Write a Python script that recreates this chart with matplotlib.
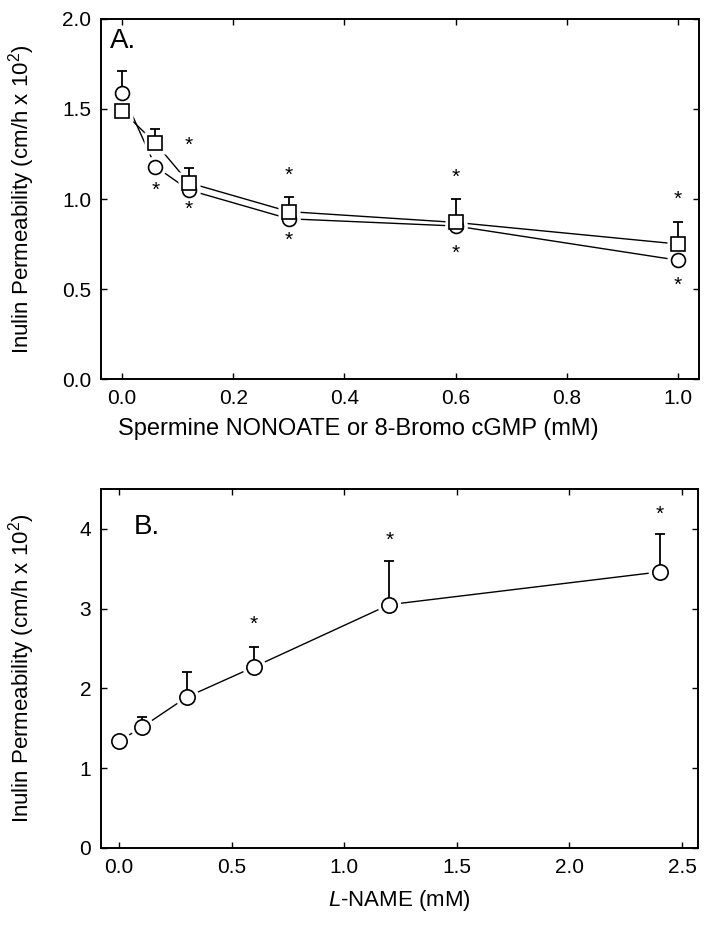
import numpy as np
import matplotlib
matplotlib.use("Agg")
import matplotlib.pyplot as plt

plt.rcParams['font.family'] = ['Liberation Sans', 'DejaVu Sans']
plt.rcParams['mathtext.fontset'] = 'custom'
plt.rcParams['mathtext.rm'] = 'Liberation Sans'
plt.rcParams['mathtext.it'] = 'Liberation Sans:italic'

# Panel A data (mM vs permeability, cm/h x 10^2)
conc_a = [0.0, 0.06, 0.12, 0.3, 0.6, 1.0]
circle_a = [1.59, 1.18, 1.05, 0.89, 0.85, 0.66]
circle_a_err = [0.12, 0.0, 0.0, 0.0, 0.0, 0.0]
square_a = [1.49, 1.31, 1.09, 0.93, 0.87, 0.75]
square_a_err = [0.0, 0.08, 0.08, 0.08, 0.13, 0.12]
stars_a_x = [0.06, 0.12, 0.12, 0.3, 0.3, 0.6, 0.6, 1.0, 1.0]
stars_a_y = [1.05, 1.30, 0.94, 1.13, 0.77, 1.12, 0.70, 1.00, 0.52]

# Panel B data
conc_b = [0.0, 0.1, 0.3, 0.6, 1.2, 2.4]
circle_b = [1.34, 1.51, 1.89, 2.27, 3.05, 3.46]
circle_b_err = [0.0, 0.13, 0.32, 0.25, 0.55, 0.47]
stars_b_x = [0.6, 1.2, 2.4]
stars_b_y = [2.80, 3.86, 4.18]

ylabel = "Inulin Permeability (cm/h x 10$^2$)"

fig = plt.figure(figsize=(7.09, 9.31), dpi=100)
ax1 = fig.add_axes([0.1425, 0.5929, 0.8434, 0.3867])
ax2 = fig.add_axes([0.1425, 0.0892, 0.842, 0.3856])


def series(ax, x, y, err, marker, ms):
    ax.plot(x, y, color='black', lw=1.0, zorder=1)
    ax.plot(x, y, ls='none', marker=marker, ms=ms + 6, mfc='white',
            mec='none', zorder=2)
    ax.errorbar(x, y, yerr=[np.zeros(len(err)), err], fmt='none',
                ecolor='black', elinewidth=1.3, capsize=3.5, capthick=1.3,
                zorder=3)
    ax.plot(x, y, ls='none', marker=marker, ms=ms, mfc='white',
            mec='black', mew=1.2, zorder=4)


def style(ax):
    for s in ax.spines.values():
        s.set_linewidth(1.4)
    ax.tick_params(direction='in', top=True, right=True, length=4,
                   width=1.0, labelsize=15, pad=7)
    ax.yaxis.set_label_coords(-0.107, 0.5)


series(ax1, conc_a, circle_a, circle_a_err, 'o', 10)
series(ax1, conc_a, square_a, square_a_err, 's', 10)
for sx, sy in zip(stars_a_x, stars_a_y):
    ax1.text(sx, sy, '*', ha='center', va='center', fontsize=15)
ax1.set_xlim(-0.038, 1.038)
ax1.set_ylim(0, 2.0)
ax1.set_xticks([0, 0.2, 0.4, 0.6, 0.8, 1.0])
ax1.set_yticks([0, 0.5, 1.0, 1.5, 2.0])
ax1.xaxis.set_major_formatter(matplotlib.ticker.FormatStrFormatter('%.1f'))
ax1.yaxis.set_major_formatter(matplotlib.ticker.FormatStrFormatter('%.1f'))
ax1.set_xlabel("Spermine NONOATE or 8-Bromo cGMP (mM)", fontsize=17)
ax1.xaxis.set_label_coords(0.43, -0.108)
ax1.set_ylabel(ylabel, fontsize=16)
ax1.text(0.015, 0.975, "A.", transform=ax1.transAxes, fontsize=20,
         ha='left', va='top')
style(ax1)

series(ax2, conc_b, circle_b, circle_b_err, 'o', 11)
for sx, sy in zip(stars_b_x, stars_b_y):
    ax2.text(sx, sy, '*', ha='center', va='center', fontsize=15)
ax2.set_xlim(-0.08, 2.571)
ax2.set_ylim(0, 4.5)
ax2.set_xticks([0, 0.5, 1.0, 1.5, 2.0, 2.5])
ax2.set_yticks([0, 1, 2, 3, 4])
ax2.xaxis.set_major_formatter(matplotlib.ticker.FormatStrFormatter('%.1f'))
ax2.set_xlabel(r"$\it{L}$-NAME (mM)", fontsize=16, labelpad=8)
ax2.set_ylabel(ylabel, fontsize=16)
ax2.text(0.055, 0.93, "B.", transform=ax2.transAxes, fontsize=20,
         ha='left', va='top')
style(ax2)

fig.savefig("out.png", dpi=100)
